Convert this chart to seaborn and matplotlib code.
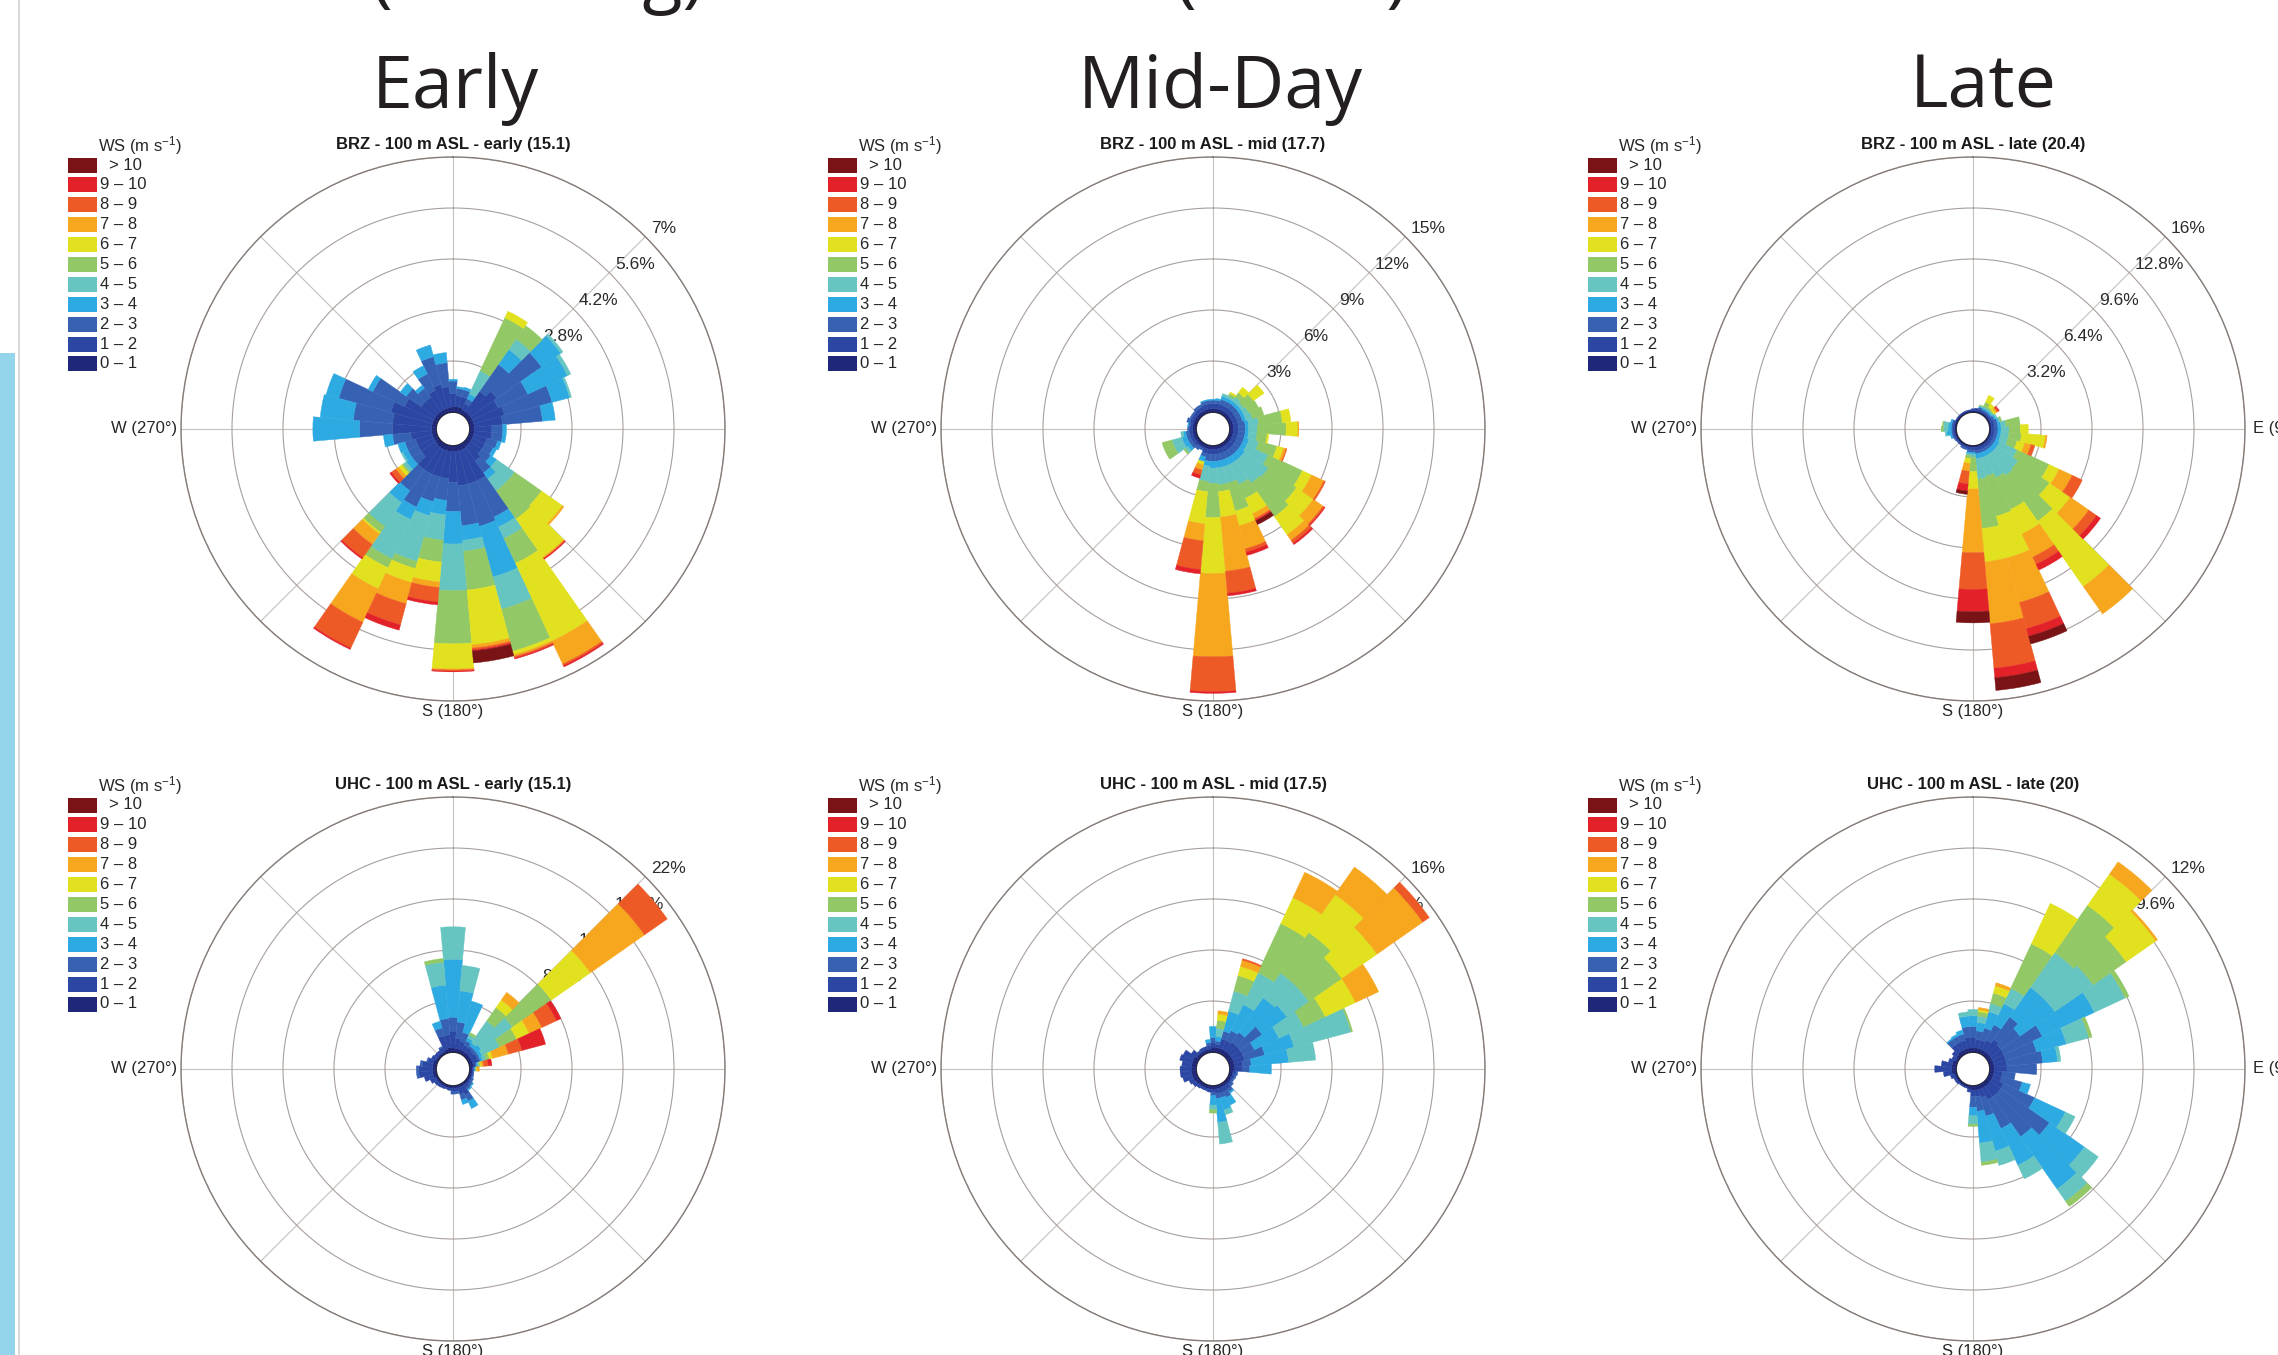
import numpy as np
import matplotlib
matplotlib.use("Agg")
import matplotlib.pyplot as plt
from matplotlib.patches import Rectangle
from matplotlib.lines import Line2D
import seaborn as sns

sns.set_theme(style="white")
plt.rcParams['font.family'] = ['Liberation Sans', 'DejaVu Sans']
plt.rcParams['mathtext.default'] = 'regular'

# direction bins (deg, clockwise from N) and wind-speed classes
directions = np.arange(0, 360, 10)
speed_labels = ['0 – 1', '1 – 2', '2 – 3', '3 – 4', '4 – 5', '5 – 6',
                '6 – 7', '7 – 8', '8 – 9', '9 – 10', '> 10']
class_colors = sns.color_palette(['#1f2778', '#2c47a3', '#3762b4', '#2eaae2', '#66c5c1',
                                  '#92c865', '#e1e11f', '#f7a71e', '#ee5a26', '#e32129', '#7a1315'])

# cumulative frequency (%) at the top of each speed class, one row per direction
brz_early = [
    [0.15, 0.5, 0.85, 0.9], [0.15, 0.45, 0.65, 0.7], [0.15, 0.45, 0.65, 0.72],
    [0.12, 0.3, 0.45, 0.6, 1.3, 2.9, 3.1], [0.12, 0.8, 1.7, 2.2, 2.55, 3.0],
    [0.12, 1.0, 2.5, 3.15, 3.22], [0.12, 0.9, 1.8, 3.0, 3.1], [0.12, 1.0, 2.35, 2.85, 2.9],
    [0.12, 0.9, 2.0, 2.35], [0.12, 0.6, 0.9, 1.0], [0.12, 0.6, 0.9, 1.0], [0.12, 0.5, 0.8, 0.9],
    [0.12, 0.5, 0.75, 0.85], [0.12, 0.5, 0.8, 1.0, 1.6, 2.5, 3.2, 3.25],
    [0.12, 0.6, 1.0, 1.2, 1.6, 2.55, 3.83, 3.86, 3.88, 3.9],
    [0.15, 1.1, 2.2, 2.5, 2.85, 3.6, 5.96, 6.65, 6.7, 6.74],
    [0.15, 1.1, 2.3, 3.74, 4.66, 5.85, 5.95, 6.0, 6.04, 6.07],
    [0.15, 1.1, 2.2, 2.6, 2.9, 3.97, 5.48, 5.57, 5.62, 5.65, 5.98],
    [0.15, 1.0, 1.8, 2.69, 3.97, 5.43, 6.12, 6.15, 6.18, 6.2],
    [0.15, 0.9, 1.5, 1.9, 2.6, 3.2, 3.75, 3.9, 4.3, 4.38],
    [0.15, 0.9, 1.6, 2.0, 3.3, 3.5, 3.9, 4.5, 5.1, 5.25],
    [0.15, 0.9, 1.9, 2.28, 3.47, 3.74, 4.38, 5.39, 6.17, 6.21],
    [0.15, 0.9, 1.6, 2.0, 2.8, 3.0, 3.05, 3.4, 3.85, 3.89],
    [0.12, 0.6, 0.9, 1.1, 1.2, 1.25, 1.35, 1.45, 1.6, 1.65],
    [0.12, 0.6, 0.9, 1.05, 1.1], [0.12, 0.6, 0.9, 1.1], [0.12, 0.7, 1.2, 1.45],
    [0.12, 1.2, 2.1, 3.38], [0.12, 1.2, 2.28, 3.19], [0.12, 1.3, 2.78, 3.14],
    [0.12, 1.0, 1.96, 2.1], [0.12, 0.6, 1.1, 1.3], [0.12, 0.6, 0.9, 1.0],
    [0.12, 0.7, 1.2, 1.45], [0.12, 0.8, 1.59, 1.92], [0.12, 0.7, 1.36, 1.64],
]
brz_mid = [
    [0.2, 0.5, 0.7, 0.75], [0.2, 0.5, 0.7, 0.8], [0.2, 0.5, 0.8, 1.0, 1.15],
    [0.2, 0.5, 0.8, 1.0, 1.15, 1.3, 1.4], [0.2, 0.5, 0.8, 1.0, 1.3, 1.6, 2.0],
    [0.2, 0.5, 0.8, 1.0, 1.2, 1.9, 2.67], [0.2, 0.5, 0.8, 1.0, 1.3, 1.95],
    [0.2, 0.5, 0.8, 1.0, 1.4, 2.1], [0.2, 0.5, 0.9, 1.1, 1.7, 3.1, 3.6],
    [0.2, 0.5, 0.9, 1.1, 1.6, 3.3, 4.0, 4.05], [0.2, 0.5, 0.9, 1.1, 1.6, 2.2, 2.3],
    [0.2, 0.5, 0.9, 1.2, 1.8, 2.9, 3.3, 3.45, 3.5],
    [0.2, 0.5, 0.9, 1.2, 2.6, 4.8, 5.4, 6.2, 6.3],
    [0.2, 0.5, 0.9, 1.3, 3.0, 5.0, 6.2, 6.9, 7.0, 7.05],
    [0.2, 0.5, 0.9, 1.3, 2.9, 5.3, 6.6, 7.0, 7.2, 7.3],
    [0.2, 0.5, 0.9, 1.3, 2.6, 3.5, 4.5, 4.8, 4.9, 4.95, 5.2],
    [0.2, 0.5, 0.9, 1.3, 2.3, 4.0, 4.9, 6.3, 6.5, 6.7],
    [0.2, 0.5, 0.9, 1.3, 2.3, 2.7, 4.2, 7.4, 8.7, 8.85],
    [0.2, 0.5, 0.9, 1.3, 2.2, 4.2, 7.5, 12.4, 14.45, 14.55],
    [0.2, 0.5, 0.9, 1.2, 2.1, 2.7, 4.6, 5.6, 7.3, 7.55],
    [0.2, 0.5, 0.7, 1.0, 1.0, 1.0, 1.2, 1.5, 1.8, 2.0],
    [0.2, 0.3, 0.4], [0.2, 0.3, 0.5], [0.2, 0.4, 0.6, 0.8, 1.0, 1.1],
    [0.2, 0.4, 0.6, 0.9, 1.5, 2.1], [0.2, 0.4, 0.6, 0.9, 1.5, 2.1],
    [0.2, 0.4, 0.6, 0.75, 0.9], [0.2, 0.4, 0.5], [0.2, 0.35, 0.45, 0.5],
    [0.2, 0.4, 0.6], [0.2, 0.4, 0.5], [0.2, 0.4, 0.5], [0.2, 0.45, 0.6],
    [0.2, 0.45, 0.6], [0.2, 0.5, 0.7, 0.75], [0.2, 0.5, 0.7, 0.75],
]
brz_late = [
    [0.1, 0.2], [0.1, 0.25], [0.1, 0.25, 0.35, 0.4, 0.45, 0.5],
    [0.1, 0.2, 0.3, 0.4, 0.5, 0.8, 1.27], [0.1, 0.2, 0.3, 0.4, 0.5, 0.6, 0.85],
    [0.1, 0.2, 0.3, 0.4, 0.5, 0.55, 0.7, 0.8, 0.9, 0.95], [0.1, 0.25, 0.4, 0.5, 0.6],
    [0.1, 0.3, 0.5, 0.6, 0.7, 0.8], [0.1, 0.3, 0.5, 0.7, 1.0, 1.9],
    [0.1, 0.3, 0.5, 0.7, 1.2, 1.9, 2.4], [0.1, 0.3, 0.5, 0.7, 1.2, 2.0, 3.5, 3.6],
    [0.1, 0.3, 0.5, 0.7, 1.2, 1.8, 2.3, 2.7, 2.95],
    [0.1, 0.3, 0.5, 0.8, 2.0, 4.2, 4.9, 5.8, 6.5],
    [0.1, 0.3, 0.5, 0.8, 2.4, 4.8, 6.4, 7.8, 8.4, 8.7],
    [0.1, 0.3, 0.5, 0.8, 2.5, 6.0, 11.0, 13.1],
    [0.1, 0.3, 0.5, 0.8, 2.3, 4.5, 6.2, 7.8, 8.3, 8.7],
    [0.1, 0.3, 0.5, 0.8, 2.0, 4.6, 7.3, 10.2, 11.9, 12.4, 12.9],
    [0.1, 0.3, 0.5, 0.8, 2.1, 5.2, 7.3, 11.2, 14.0, 14.6, 15.4],
    [0.1, 0.25, 0.4, 0.5, 0.7, 1.6, 2.7, 6.7, 9.0, 10.4, 11.1],
    [0.1, 0.25, 0.4, 0.5, 0.6, 0.8, 1.1, 1.6, 2.4, 2.85, 3.05],
    [0.1, 0.2, 0.3], [0.1, 0.2, 0.3], [0.1, 0.2], [0.1, 0.2], [0.1, 0.2, 0.25],
    [0.1, 0.2, 0.3, 0.4], [0.1, 0.2, 0.3, 0.6, 0.7], [0.1, 0.2, 0.3, 0.5, 0.8, 0.93],
    [0.1, 0.2, 0.3, 0.5, 0.8, 0.87], [0.1, 0.2, 0.3, 0.4], [0.1, 0.15], [0.1, 0.15],
    [0.1, 0.15], [0.1, 0.15], [0.1, 0.15], [0.1, 0.15],
]
uhc_early = [
    [0.4, 1.8, 3.0, 8.0, 10.8], [0.3, 1.2, 2.6, 5.3, 7.5], [0.3, 1.0, 1.8, 4.6],
    [0.3, 0.8, 1.2, 1.5, 1.8, 2.0], [0.3, 0.8, 1.0, 1.3, 3.6, 5.0, 5.8, 6.6],
    [0.3, 0.7, 1.0, 1.5, 4.8, 8.9, 13.0, 18.7, 21.1],
    [0.3, 0.8, 1.0, 1.3, 3.0, 4.6, 5.8, 7.0, 8.4, 8.8],
    [0.3, 0.8, 1.0, 1.2, 1.5, 1.8, 2.1, 3.5, 4.7, 6.8],
    [0.3, 0.5, 0.6, 0.7, 0.8, 0.9, 1.0, 1.2, 1.6, 1.9],
    [0.2, 0.3, 0.4, 0.45, 0.5, 0.55, 0.6, 0.8],
    [0.2, 0.3, 0.35], [0.2, 0.3, 0.4], [0.2, 0.35, 0.5], [0.2, 0.4, 0.6, 0.7],
    [0.2, 0.5, 0.7, 0.8], [0.2, 1.0, 1.6, 2.3], [0.2, 0.8, 1.3, 1.7], [0.2, 0.5, 0.7],
    [0.2, 0.5, 0.7], [0.2, 0.4], [0.2, 0.35], [0.2, 0.4], [0.2, 0.45], [0.2, 0.5],
    [0.2, 0.7], [0.3, 1.1], [0.3, 1.5, 1.7], [0.3, 1.5, 1.7], [0.3, 1.2, 1.4],
    [0.3, 0.8, 0.9], [0.2, 0.6], [0.2, 0.5], [0.2, 0.5], [0.2, 0.6, 0.7],
    [0.3, 1.5, 2.2, 2.8], [0.4, 1.5, 2.9, 5.8, 7.8, 8.1],
]
uhc_mid = [
    [0.3, 0.6, 0.9, 1.6], [0.3, 0.5, 0.7, 1.0, 1.5, 2.0, 2.4, 2.6],
    [0.3, 0.9, 1.4, 2.7, 4.0, 5.0, 5.6, 6.0, 6.1],
    [0.3, 0.9, 1.6, 3.4, 5.6, 9.0, 10.8, 12.55],
    [0.3, 1.0, 1.75, 4.4, 6.3, 9.4, 12.3, 14.4],
    [0.3, 1.0, 2.7, 4.6, 6.3, 8.8, 11.5, 15.0, 15.5],
    [0.3, 1.0, 1.8, 3.5, 5.2, 6.7, 8.8, 10.4],
    [0.3, 1.0, 2.3, 4.2, 7.9, 8.0], [0.3, 0.8, 1.35, 3.7, 5.4], [0.3, 0.8, 1.24, 2.6],
    [0.2, 0.4, 0.5], [0.2, 0.35, 0.45], [0.2, 0.3, 0.4], [0.2, 0.35, 0.5],
    [0.2, 0.5, 0.7, 0.8], [0.2, 0.5, 0.9, 1.44], [0.2, 0.5, 0.8, 1.6, 1.9],
    [0.2, 0.5, 0.8, 2.3, 3.66], [0.2, 0.4, 0.6, 1.2, 1.5, 1.7],
    [0.2, 0.4], [0.2, 0.35], [0.2, 0.35], [0.2, 0.4], [0.25, 0.5], [0.3, 0.6],
    [0.3, 0.9], [0.3, 1.0], [0.3, 1.0], [0.3, 0.9], [0.3, 1.1], [0.3, 1.0],
    [0.2, 0.6], [0.2, 0.35], [0.2, 0.4], [0.2, 0.4], [0.2, 0.4, 0.6, 0.8],
]
uhc_late = [
    [0.2, 0.7, 1.2, 1.7, 2.0], [0.2, 0.6, 1.0, 1.4, 1.7, 1.9, 2.0, 2.1],
    [0.2, 0.6, 1.2, 2.0, 2.4, 2.9, 3.25, 3.4], [0.2, 0.7, 1.5, 2.6, 3.4, 5.7, 7.8],
    [0.2, 0.9, 2.2, 3.9, 5.9, 8.6, 10.4, 11.1], [0.2, 0.8, 1.9, 3.9, 6.1, 8.0, 9.7, 9.8],
    [0.2, 0.8, 2.8, 5.5, 7.1, 7.3], [0.2, 0.8, 2.3, 3.75, 4.85, 5.0],
    [0.2, 0.8, 2.5, 3.2, 3.35], [0.2, 0.8, 2.2], [0.2, 0.6, 1.2], [0.2, 0.6, 1.6, 2.0],
    [0.2, 0.8, 2.4, 4.0, 4.5], [0.2, 0.8, 3.6, 5.6, 6.4], [0.2, 0.8, 3.1, 6.1, 6.8, 7.1],
    [0.2, 0.8, 2.3, 4.2, 4.9], [0.2, 0.6, 1.5, 3.2, 3.9], [0.2, 0.5, 1.2, 2.7, 3.6, 3.75],
    [0.2, 0.5, 1.0, 1.4, 1.8, 1.9], [0.15, 0.3], [0.1, 0.15], [0.1, 0.15], [0.1, 0.15],
    [0.1, 0.2], [0.1, 0.2], [0.1, 0.3], [0.2, 0.6], [0.2, 1.0], [0.2, 0.7], [0.2, 0.4],
    [0.1, 0.3], [0.15, 0.4], [0.2, 0.6, 0.9, 0.95], [0.2, 0.6, 0.9, 1.0],
    [0.2, 0.6, 0.9, 1.1], [0.2, 0.7, 1.2, 1.7, 1.9],
]

panel_data = [brz_early, brz_mid, brz_late, uhc_early, uhc_mid, uhc_late]
panel_titles = ['BRZ - 100 m ASL - early (15.1)', 'BRZ - 100 m ASL - mid (17.7)',
                'BRZ - 100 m ASL - late (20.4)', 'UHC - 100 m ASL - early (15.1)',
                'UHC - 100 m ASL - mid (17.5)', 'UHC - 100 m ASL - late (20)']
ring_steps = [1.4, 3, 3.2, 4.4, 3.2, 2.4]
column_titles = ['Early', 'Mid-Day', 'Late']

W, H = 2278, 1355
R = 272
centers = [(453, 429), (1213, 429), (1973, 429), (453, 1069), (1213, 1069), (1973, 1069)]


def fx(x):
    return x / W


def fy(y):
    return 1 - y / H


fig = plt.figure(figsize=(W / 100, H / 100), dpi=100, facecolor='white')

# bits of the surrounding page
fig.add_artist(Rectangle((0, 0), fx(15), fy(353), color='#93d5ea', lw=0))
fig.add_artist(Line2D([fx(19), fx(19)], [0, 1], color='#d2d2d2', lw=1.2))
head_font = ['Open Sans', 'DejaVu Sans']
fig.text(fx(371), fy(-2), '(Morning)', ha='left', va='baseline', fontsize=53,
         family=head_font, color='#231f20')
fig.text(fx(1175), fy(-2), '(Noon)', ha='left', va='baseline', fontsize=53,
         family=head_font, color='#231f20')
for title, xc in zip(column_titles, [455, 1220, 1983]):
    fig.text(fx(xc), fy(108), title, ha='center', va='baseline', fontsize=53,
             family=head_font, color='#231f20')

theta = np.deg2rad(directions)
width = np.deg2rad(10)

for i, rows in enumerate(panel_data):
    cx, cy = centers[i]
    step = ring_steps[i]
    cum = np.array([r + [r[-1]] * (11 - len(r)) for r in rows])

    ax = fig.add_axes([fx(cx - R), fy(cy + R), 2 * R / W, 2 * R / H], projection='polar')
    ax.set_theta_zero_location('N')
    ax.set_theta_direction(-1)

    bottom = np.zeros(len(directions))
    for k in range(11):
        top = cum[:, k]
        h = top - bottom
        m = h > 0
        ax.bar(theta[m], h[m], width=width, bottom=bottom[m], color=class_colors[k],
               edgecolor=class_colors[k], linewidth=0.3, align='center', zorder=3)
        bottom = top

    ax.set_ylim(0, 5 * step)
    ax.set_rorigin(-step / 3)
    ax.set_yticks(np.arange(1, 6) * step)
    ax.set_xticks(np.deg2rad(np.arange(0, 360, 45)))
    ax.set_xticklabels([])
    ax.set_yticklabels([])
    ax.xaxis.grid(True, color='#c4c0be', lw=0.8)
    ax.yaxis.grid(True, color='#a8a09c', lw=0.8)
    ax.spines['polar'].set_color('#857c78')
    ax.spines['polar'].set_linewidth(1.0)
    ax.spines['inner'].set_visible(False)
    ax.set_facecolor('none')

    for k in range(1, 6):
        lbl = f"{round(k * step, 1):g}%"
        ax.annotate(lbl, xy=(np.deg2rad(45), k * step), xytext=(4, 3),
                    textcoords='offset points', ha='left', va='baseline',
                    fontsize=12.5, color='#2a2a2a', zorder=2, annotation_clip=False)

    fig.text(fx(cx), fy(cy - 284), panel_titles[i], ha='center', va='center',
             fontsize=12, fontweight='bold', color='#1a1a1a')
    fig.text(fx(cx - R - 4), fy(cy), 'W (270°)', ha='right', va='center', fontsize=12)
    fig.text(fx(cx), fy(cy + R + 3), 'S (180°)', ha='center', va='top', fontsize=12)
    if i % 3 == 2:
        fig.text(fx(cx + R + 8), fy(cy), 'E (90°)', ha='left', va='center', fontsize=12)

    # speed legend
    fig.text(fx(cx - 313), fy(cy - 283), r'WS (m s$^{-1}$)', ha='center', va='center',
             fontsize=12)
    for j in range(11):
        k = 10 - j
        yc = cy - 264 + j * 19.9
        fig.add_artist(Rectangle((fx(cx - 385), fy(yc + 7.5)), 29 / W, 15 / H,
                                 color=class_colors[k], lw=0))
        xoff = 9 if k == 10 else 0
        fig.text(fx(cx - 353 + xoff), fy(yc), speed_labels[k], ha='left', va='center',
                 fontsize=12)

fig.savefig('out.png', dpi=100, facecolor='white')
